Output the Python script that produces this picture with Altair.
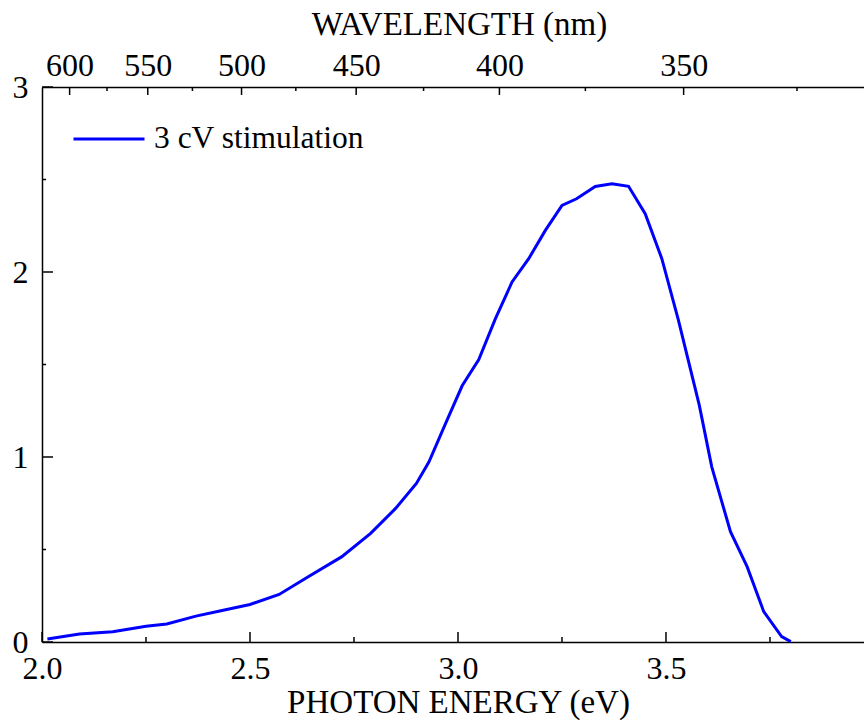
import altair as alt
import pandas as pd

# ---- data ----
series_name = "3 cV stimulation"
energy = [2.013, 2.09, 2.17, 2.25, 2.30, 2.37, 2.43, 2.50, 2.57, 2.64, 2.72, 2.79,
          2.85, 2.90, 2.93, 2.97, 3.01, 3.05, 3.09, 3.13, 3.17, 3.21, 3.25, 3.285,
          3.33, 3.37, 3.41, 3.45, 3.49, 3.53, 3.58, 3.61, 3.655, 3.695, 3.735,
          3.778, 3.80]
intensity = [0.016, 0.043, 0.056, 0.085, 0.097, 0.14, 0.169, 0.203, 0.257, 0.353,
             0.46, 0.587, 0.722, 0.857, 0.973, 1.18, 1.385, 1.527, 1.748, 1.946,
             2.072, 2.225, 2.36, 2.396, 2.462, 2.477, 2.463, 2.315, 2.072, 1.739,
             1.28, 0.947, 0.596, 0.407, 0.164, 0.029, 0.002]

x_major = [2.0, 2.5, 3.0, 3.5]
x_minor = [2.25, 2.75, 3.25, 3.75]
y_major = [0, 1, 2, 3]
y_minor = [0.5, 1.5, 2.5]
wl_major = [600, 550, 500, 450, 400, 350]
wl_minor = [575, 525, 475, 425, 375, 325]
HC = 1239.84  # eV*nm

# ---- layout ----
W, H = 822, 555
FONT = "Liberation Serif"
FS = 32
TFS = 33
xscale = alt.Scale(domain=[2.0, 3.976], nice=False, zero=False)
yscale = alt.Scale(domain=[0, 3], nice=False, zero=False)

y_axis = alt.Axis(values=y_major, format="d", ticks=False, grid=False,
                  title=None, labelPadding=14, domain=True, labelFlush=False)

df = pd.DataFrame({"E": energy, "I": intensity, "s": series_name})

line = alt.Chart(df).mark_line(strokeWidth=3).encode(
    x=alt.X("E:Q", scale=xscale,
            axis=alt.Axis(orient="bottom", values=x_major, format=".1f",
                          ticks=False, grid=False, title="PHOTON ENERGY (eV)",
                          labelPadding=11, titleY=70, titleBaseline="alphabetic",
                          titleX=416, titleFontSize=TFS, labelFlush=False)),
    y=alt.Y("I:Q", scale=yscale, axis=y_axis),
    color=alt.Color("s:N", scale=alt.Scale(domain=[series_name], range=["#0000ff"]),
                    legend=alt.Legend(title=None, orient="none", legendX=30, legendY=15,
                                      symbolType="stroke", symbolSize=5041,
                                      symbolStrokeWidth=3, labelFont=FONT,
                                      labelFontSize=31.5, labelColor="black",
                                      labelLimit=400, labelOffset=8, padding=0)),
)

top_major_df = pd.DataFrame({"nm": wl_major})
top_minor_df = pd.DataFrame({"nm": wl_minor})

top_major = alt.Chart(top_major_df).transform_calculate(
    E=f"{HC}/datum.nm"
).mark_rule(color="black", strokeWidth=1.5).encode(
    x=alt.X("E:Q", scale=xscale,
            axis=alt.Axis(orient="top", values=[HC / w for w in wl_major],
                          labelExpr=f"format({HC}/datum.value, '.0f')",
                          ticks=False, grid=False, title="WAVELENGTH (nm)",
                          labelPadding=12, labelBaseline="alphabetic",
                          titleY=-53, titleBaseline="alphabetic", titleX=417,
                          titleFontSize=TFS, labelFlush=False)),
    y=alt.value(0), y2=alt.value(8),
)
top_minor = alt.Chart(top_minor_df).transform_calculate(
    E=f"{HC}/datum.nm"
).mark_rule(color="black", strokeWidth=1.5).encode(
    x=alt.X("E:Q", scale=xscale, axis=None),
    y=alt.value(0), y2=alt.value(4),
)

bx_major = alt.Chart(pd.DataFrame({"E": x_major})).mark_rule(color="black", strokeWidth=1.5).encode(
    x=alt.X("E:Q", scale=xscale, axis=None), y=alt.value(H), y2=alt.value(H - 10))
bx_minor = alt.Chart(pd.DataFrame({"E": x_minor})).mark_rule(color="black", strokeWidth=1.5).encode(
    x=alt.X("E:Q", scale=xscale, axis=None), y=alt.value(H), y2=alt.value(H - 5))
ly_major = alt.Chart(pd.DataFrame({"I": y_major})).mark_rule(color="black", strokeWidth=1.5).encode(
    y=alt.Y("I:Q", scale=yscale, axis=y_axis), x=alt.value(0), x2=alt.value(11))
ly_minor = alt.Chart(pd.DataFrame({"I": y_minor})).mark_rule(color="black", strokeWidth=1.5).encode(
    y=alt.Y("I:Q", scale=yscale, axis=y_axis), x=alt.value(0), x2=alt.value(4))

chart = alt.layer(
    line, top_major, top_minor, bx_major, bx_minor, ly_major, ly_minor
).resolve_axis(x="independent", y="shared").properties(
    width=W, height=H,
    padding={"left": 42, "top": 87, "right": 0, "bottom": 80},
    autosize=alt.AutoSizeParams(type="none"),
    background="white",
).configure_view(stroke=None).configure_axis(
    domainColor="black", domainWidth=1.5, labelFlush=False,
    labelFont=FONT, labelFontSize=FS, labelColor="black",
    titleFont=FONT, titleFontSize=TFS, titleColor="black", titleFontWeight="normal",
)

chart.save("out.html", embed_options={"renderer": "svg", "actions": False})
